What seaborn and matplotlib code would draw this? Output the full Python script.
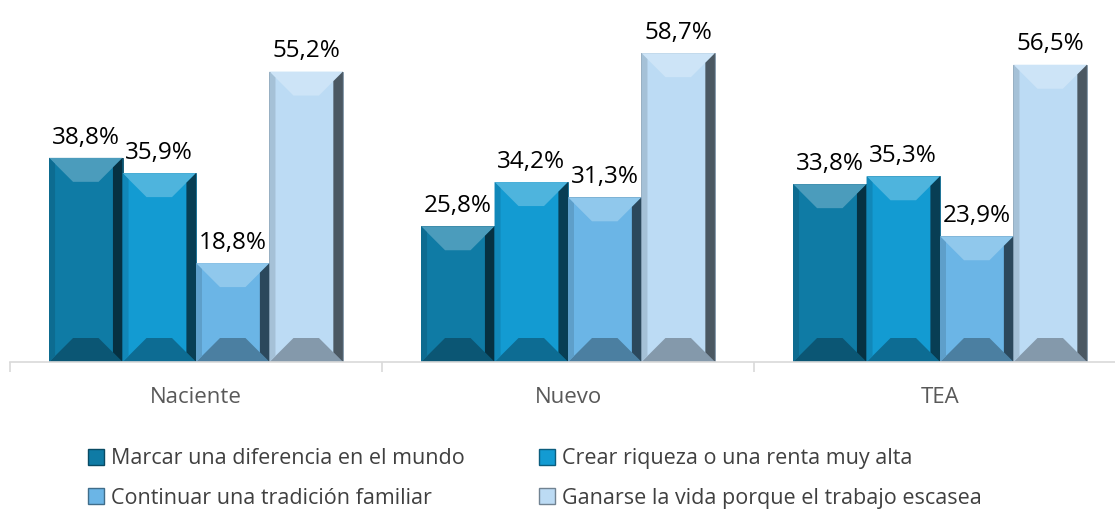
import numpy as np
import pandas as pd
import matplotlib
matplotlib.use("Agg")
import matplotlib.pyplot as plt
import seaborn as sns
from matplotlib.patches import Polygon
from matplotlib.lines import Line2D
from matplotlib.colors import to_rgb

# data
groups = ["Naciente", "Nuevo", "TEA"]
series = ["Marcar una diferencia en el mundo",
          "Crear riqueza o una renta muy alta",
          "Continuar una tradición familiar",
          "Ganarse la vida porque el trabajo escasea"]
marcar = [38.8, 25.8, 33.8]
crear = [35.9, 34.2, 35.3]
continuar = [18.8, 31.3, 23.9]
ganarse = [55.2, 58.7, 56.5]
colors = ["#0f7ba5", "#139bd2", "#6bb5e6", "#bcdbf4"]

values = [marcar, crear, continuar, ganarse]
df = pd.DataFrame({
    "grupo": groups * len(series),
    "serie": np.repeat(series, len(groups)),
    "valor": np.concatenate(values),
})

sns.set_theme(style="white")
plt.rcParams["font.family"] = ["Open Sans", "DejaVu Sans"]

fig = plt.figure(figsize=(11.15, 5.11), dpi=100)
ax = fig.add_axes([10 / 1115, 149 / 511, 1116 / 1115, 362 / 511])

sns.barplot(data=df, x="grupo", y="valor", hue="serie", palette=colors,
            width=0.79, saturation=1, legend=False, ax=ax)
ax.set_xlim(-0.5, 2.5)
ax.set_ylim(0, 68.8)


def shade(c, f):
    r = np.array(to_rgb(c))
    if f > 0:
        return tuple(r + (1 - r) * f)
    return tuple(r * (1 + f))


# fake the bevelled look of the original bars
fig.canvas.draw()
px_x = ax.transData.transform((1, 0))[0] - ax.transData.transform((0, 0))[0]
px_y = ax.transData.transform((0, 1))[1] - ax.transData.transform((0, 0))[1]
bx = 24 / px_x
by = 24 / px_y
for cont, col in zip(ax.containers, colors):
    for p in cont.patches:
        x0, w, h = p.get_x(), p.get_width(), p.get_height()
        x1 = x0 + w
        p.set_edgecolor(shade(col, -0.35))
        p.set_linewidth(0.6)
        top = [(x0, h), (x1, h), (x1 - bx, h - by), (x0 + bx, h - by)]
        bot = [(x0, 0), (x1, 0), (x1 - bx, by), (x0 + bx, by)]
        right = [(x1, 0), (x1, h), (x1 - bx * 0.4, h - by * 0.4), (x1 - bx * 0.4, by * 0.4)]
        left = [(x0, 0), (x0, h), (x0 + bx * 0.25, h - by * 0.25), (x0 + bx * 0.25, by * 0.25)]
        ax.add_patch(Polygon(top, closed=True, color=shade(col, 0.25), lw=0))
        ax.add_patch(Polygon(bot, closed=True, color=shade(col, -0.3), lw=0))
        ax.add_patch(Polygon(right, closed=True, color=shade(col, -0.6), lw=0))
        ax.add_patch(Polygon(left, closed=True, color=shade(col, -0.12), lw=0))
    ax.bar_label(cont, labels=[f"{v:.1f}%".replace(".", ",") for v in cont.datavalues],
                 padding=6, fontsize=17.5, color="#000000")

for s in ["left", "top", "right"]:
    ax.spines[s].set_visible(False)
ax.spines["bottom"].set_color("#d9d9d9")
ax.spines["bottom"].set_linewidth(1.2)
ax.set_yticks([])
ax.set_xlabel("")
ax.set_ylabel("")
ax.set_xticks([-0.5, 0.5, 1.5, 2.5], minor=True)
ax.tick_params(axis="x", which="major", length=0, pad=18, labelsize=16, labelcolor="#595959")
ax.tick_params(axis="x", which="minor", length=7, width=1.2, color="#d9d9d9", bottom=True)

# legend filled row by row like the original
order = [0, 2, 1, 3]
handles = [Line2D([], [], marker="s", linestyle="", markersize=11, markerfacecolor=colors[i],
                  markeredgecolor=shade(colors[i], -0.4)) for i in order]
fig.legend(handles, [series[i] for i in order], ncol=2, loc="upper left",
           bbox_to_anchor=(68 / 1115, 1 - 429 / 511),
           frameon=False, fontsize=15.5, labelcolor="#404040", handlelength=0.8,
           handletextpad=0.3, columnspacing=3.4, labelspacing=0.85)

fig.savefig("out.png", dpi=100)
